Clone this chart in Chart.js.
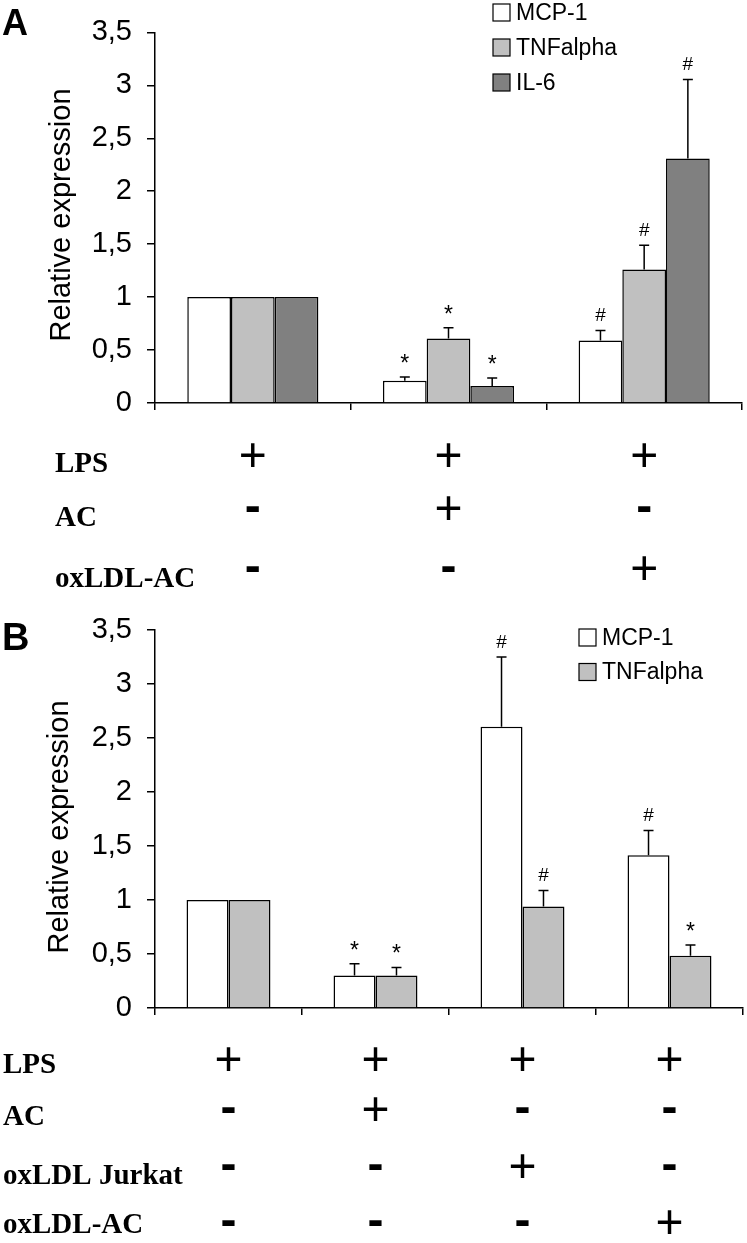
<!DOCTYPE html>
<html>
<head>
    <title>Relative expression - panels A and B</title>
    <script src="https://cdn.jsdelivr.net/npm/chart.js"></script>
    <style>
        body {
            margin: 0;
            background: #fff;
            width: 747px;
            height: 1243px;
            position: relative;
            overflow: hidden;
        }
        canvas {
            position: absolute;
            left: 0;
        }
        #chartA { top: 0; }
        #chartB { top: 595px; }
    </style>
</head>
<body>
    <canvas id="chartA" width="747" height="595"></canvas>
    <canvas id="chartB" width="747" height="648"></canvas>

    <script>
        // ---- Panel A data ----
        const catsA = ["LPS", "LPS + AC", "LPS + oxLDL-AC"];
        const mcpA = [1, 0.21, 0.59];
        const mcpErrA = [0, 0.035, 0.095];
        const mcpSigA = ["", "*", "#"];
        const tnfA = [1, 0.61, 1.26];
        const tnfErrA = [0, 0.10, 0.23];
        const tnfSigA = ["", "*", "#"];
        const il6A = [1, 0.16, 2.31];
        const il6ErrA = [0, 0.075, 0.745];
        const il6SigA = ["", "*", "#"];
        const rowLabelsA = ["LPS", "AC", "oxLDL-AC"];
        const rowSignsA = [
            ["+", "+", "+"],
            ["-", "+", "-"],
            ["-", "-", "+"]
        ];

        // ---- Panel B data ----
        const catsB = ["LPS", "LPS + AC", "LPS + oxLDL Jurkat", "LPS + oxLDL-AC"];
        const mcpB = [1, 0.30, 2.605, 1.415];
        const mcpErrB = [0, 0.11, 0.645, 0.228];
        const mcpSigB = ["", "*", "#", "#"];
        const tnfB = [1, 0.30, 0.94, 0.484];
        const tnfErrB = [0, 0.076, 0.148, 0.099];
        const tnfSigB = ["", "*", "#", "*"];
        const rowLabelsB = ["LPS", "AC", "oxLDL Jurkat", "oxLDL-AC"];
        const rowSignsB = [
            ["+", "+", "+", "+"],
            ["-", "+", "-", "-"],
            ["-", "-", "+", "-"],
            ["-", "-", "-", "+"]
        ];

        const yTicks = { min: 0, max: 3.5, step: 0.5 };

        const SANS = "'Liberation Sans', Arial, sans-serif";
        const SERIF = "'Liberation Serif', 'Times New Roman', serif";

        // draws error bars, significance marks, legend, panel letter, axis title and the +/- table
        const panelPlugin = {
            id: "panel",
            afterDatasetsDraw(chart, args, opts) {
                const ctx = chart.ctx;
                const xs = chart.scales.x, ys = chart.scales.y;
                ctx.save();

                chart.data.datasets.forEach((ds, i) => {
                    const meta = chart.getDatasetMeta(i);
                    meta.data.forEach((bar, j) => {
                        const e = ds.err[j];
                        if (!e) return;
                        const top = ys.getPixelForValue(ds.data[j] + e);
                        ctx.strokeStyle = "#000";
                        ctx.lineWidth = 1.5;
                        ctx.beginPath();
                        ctx.moveTo(bar.x, bar.y);
                        ctx.lineTo(bar.x, top);
                        ctx.moveTo(bar.x - 5, top);
                        ctx.lineTo(bar.x + 5, top);
                        ctx.stroke();

                        const s = ds.sig[j];
                        if (s) {
                            ctx.fillStyle = "#000";
                            ctx.textAlign = "center";
                            ctx.textBaseline = "alphabetic";
                            if (s === "*") {
                                ctx.font = "23px " + SANS;
                                ctx.fillText(s, bar.x, top - 6);
                            } else {
                                ctx.font = "19px " + SANS;
                                ctx.fillText(s, bar.x, top - 9.5);
                            }
                        }
                    });
                });

                // legend
                const lg = opts.legend;
                chart.data.datasets.forEach((ds, i) => {
                    const cy = lg.y + i * lg.dy;
                    ctx.fillStyle = ds.backgroundColor;
                    ctx.fillRect(lg.x, cy - lg.box / 2, lg.box, lg.box);
                    ctx.strokeStyle = "#000";
                    ctx.lineWidth = 1.2;
                    ctx.strokeRect(lg.x, cy - lg.box / 2, lg.box, lg.box);
                    ctx.fillStyle = "#000";
                    ctx.font = "23px " + SANS;
                    ctx.textAlign = "left";
                    ctx.textBaseline = "middle";
                    ctx.fillText(ds.label, lg.x + lg.box + 6, cy + 1);
                });

                // panel letter
                ctx.font = "bold " + opts.letter.size + "px " + SANS;
                ctx.textAlign = "left";
                ctx.textBaseline = "alphabetic";
                ctx.fillText(opts.letter.text, opts.letter.x, opts.letter.y);

                // y axis title
                ctx.save();
                ctx.translate(opts.title.x, opts.title.y);
                ctx.rotate(-Math.PI / 2);
                ctx.font = "29px " + SANS;
                ctx.textAlign = "center";
                ctx.textBaseline = "middle";
                ctx.fillText("Relative expression", 0, 0);
                ctx.restore();

                // treatment table under the axis
                const tb = opts.table;
                tb.labels.forEach((lab, r) => {
                    ctx.font = "bold 29px " + SERIF;
                    ctx.textAlign = "left";
                    ctx.textBaseline = "alphabetic";
                    ctx.fillText(lab, tb.labelX, tb.labelBase[r]);
                    ctx.textAlign = "center";
                    ctx.textBaseline = "middle";
                    tb.signs[r].forEach((sg, c) => {
                        const px = xs.getPixelForValue(c);
                        if (sg === "-") {
                            ctx.font = "bold 48px " + SANS;
                            ctx.fillText(sg, px, tb.signY[r] - 2);
                        } else {
                            ctx.font = "48px " + SANS;
                            ctx.fillText(sg, px, tb.signY[r]);
                        }
                    });
                });

                ctx.restore();
            }
        };

        function makeChart(id, labels, datasets, catPct, padding, yWidth, panelOpts) {
            return new Chart(document.getElementById(id), {
                type: "bar",
                data: { labels: labels, datasets: datasets },
                options: {
                    responsive: false,
                    animation: false,
                    devicePixelRatio: 1,
                    layout: { padding: padding },
                    datasets: {
                        bar: {
                            barPercentage: 1,
                            categoryPercentage: catPct,
                            borderColor: "#000",
                            borderWidth: 1.5
                        }
                    },
                    plugins: {
                        legend: { display: false },
                        tooltip: { enabled: false },
                        panel: panelOpts
                    },
                    scales: {
                        x: {
                            ticks: { display: false },
                            grid: {
                                offset: true,
                                drawOnChartArea: false,
                                color: "#000",
                                lineWidth: 1.5,
                                tickLength: 7
                            },
                            border: { color: "#000", width: 1.5 },
                            afterFit(scale) { scale.height = 10; }
                        },
                        y: {
                            min: yTicks.min,
                            max: yTicks.max,
                            ticks: {
                                stepSize: yTicks.step,
                                color: "#000",
                                padding: 15,
                                font: { family: SANS, size: 29 },
                                callback: v => String(v).replace(".", ",")
                            },
                            grid: {
                                drawOnChartArea: false,
                                color: "#000",
                                lineWidth: 1.5,
                                tickLength: 8
                            },
                            border: { color: "#000", width: 1.5 },
                            afterFit(scale) { scale.width = yWidth; }
                        }
                    }
                },
                plugins: [panelPlugin]
            });
        }

        makeChart("chartA", catsA, [
            { label: "MCP-1", data: mcpA, err: mcpErrA, sig: mcpSigA, backgroundColor: "#ffffff" },
            { label: "TNFalpha", data: tnfA, err: tnfErrA, sig: tnfSigA, backgroundColor: "#c0c0c0" },
            { label: "IL-6", data: il6A, err: il6ErrA, sig: il6SigA, backgroundColor: "#808080" }
        ], 0.67, { left: 5, right: 5, top: 13, bottom: 182 }, 150, {
            letter: { text: "A", x: 2, y: 35, size: 36 },
            title: { x: 62, y: 215 },
            legend: { x: 493, y: 12.5, dy: 35, box: 17 },
            table: {
                labels: rowLabelsA, signs: rowSignsA,
                labelX: 55, labelBase: [472, 526, 587], signY: [458, 511, 571]
            }
        });

        makeChart("chartB", catsB, [
            { label: "MCP-1", data: mcpB, err: mcpErrB, sig: mcpSigB, backgroundColor: "#ffffff" },
            { label: "TNFalpha", data: tnfB, err: tnfErrB, sig: tnfSigB, backgroundColor: "#c0c0c0" }
        ], 0.571, { left: 5, right: 4, top: 35, bottom: 225 }, 150, {
            letter: { text: "B", x: 2, y: 55, size: 38 },
            title: { x: 60, y: 232 },
            legend: { x: 579, y: 42.5, dy: 34.5, box: 17 },
            table: {
                labels: rowLabelsB, signs: rowSignsB,
                labelX: 3, labelBase: [478, 530, 589, 638], signY: [467, 517, 574, 630]
            }
        });
    </script>
</body>
</html>
